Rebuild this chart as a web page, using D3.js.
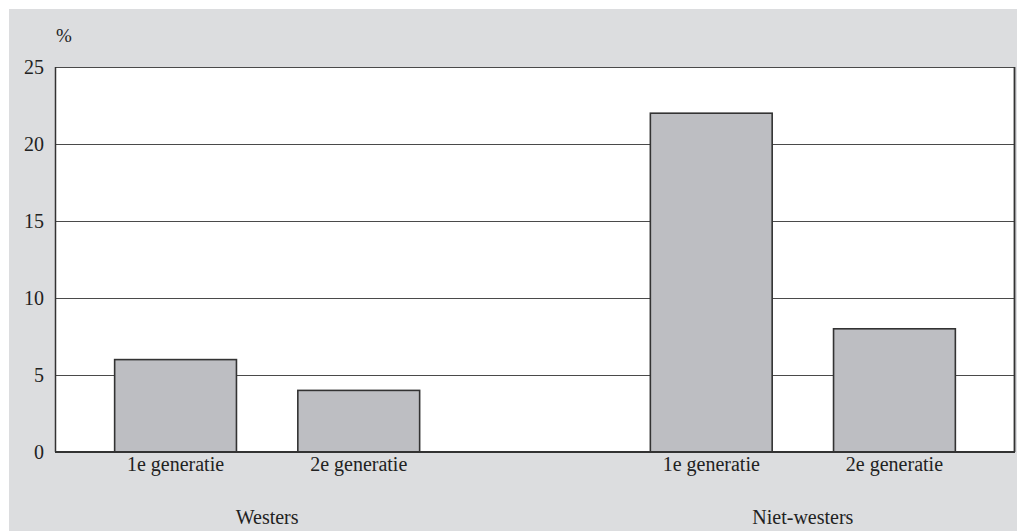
<!DOCTYPE html>
<html>
<head>
<meta charset="utf-8">
<script src="https://cdn.jsdelivr.net/npm/d3@7"></script>
<style>
  body { margin: 0; background: #fff; }
  svg { display: block; }
  text { font-family: "Liberation Serif", "DejaVu Serif", serif; fill: #222; }
</style>
</head>
<body>
<svg class="chart" width="1017" height="531"></svg>
<script>
// data
const groups = ["Westers", "Niet-westers"];
const generations = ["1e generatie", "2e generatie"];
const westers = [6, 4];
const nietWesters = [22, 8];
const yTicks = [0, 5, 10, 15, 20, 25];

const values = [westers, nietWesters];
let data = [];
groups.forEach((g, gi) => {
  generations.forEach((gen, i) => {
    data.push({group: g, gen: gen, value: values[gi][i]});
  });
});

const svg = d3.select(".chart");
const width = +svg.attr("width");
const height = +svg.attr("height");

const margin = {top: 67, right: 2, bottom: 79, left: 55};
const plotRight = width - margin.right;
const plotBottom = height - margin.bottom;

// grey panel behind everything
svg.append("rect")
  .attr("x", 9).attr("y", 9)
  .attr("width", width - 9).attr("height", height - 9)
  .attr("fill", "#dcdddf");

const y = d3.scaleLinear()
  .domain([0, 25])
  .range([plotBottom, margin.top]);

const x0 = d3.scalePoint()
  .domain(groups)
  .range([margin.left, plotRight])
  .padding(0.396);

const x1 = d3.scaleBand()
  .domain(generations)
  .range([-152.5, 152.5])
  .paddingInner(0.335);

// white plot area
svg.append("rect")
  .attr("x", margin.left).attr("y", margin.top)
  .attr("width", plotRight - margin.left)
  .attr("height", plotBottom - margin.top)
  .attr("fill", "#fff");

// gridlines
svg.append("g")
  .selectAll("line")
  .data(yTicks.filter(d => d > 0))
  .join("line")
  .attr("x1", margin.left).attr("x2", plotRight)
  .attr("y1", d => Math.round(y(d)) + 0.5)
  .attr("y2", d => Math.round(y(d)) + 0.5)
  .attr("stroke", "#4a4a4a")
  .attr("stroke-width", 1.2);

// bars
svg.append("g")
  .selectAll("rect")
  .data(data)
  .join("rect")
  .attr("x", d => x0(d.group) + x1(d.gen))
  .attr("y", d => y(d.value))
  .attr("width", x1.bandwidth())
  .attr("height", d => plotBottom - y(d.value))
  .attr("fill", "#bdbec2")
  .attr("stroke", "#333")
  .attr("stroke-width", 1.6);

// plot frame: left and right edges, baseline
svg.append("line")
  .attr("x1", margin.left + 0.5).attr("x2", margin.left + 0.5)
  .attr("y1", margin.top).attr("y2", plotBottom)
  .attr("stroke", "#333").attr("stroke-width", 1.5);
svg.append("line")
  .attr("x1", plotRight - 0.5).attr("x2", plotRight - 0.5)
  .attr("y1", margin.top).attr("y2", plotBottom)
  .attr("stroke", "#333").attr("stroke-width", 1.8);
svg.append("line")
  .attr("x1", margin.left).attr("x2", plotRight)
  .attr("y1", plotBottom).attr("y2", plotBottom)
  .attr("stroke", "#333").attr("stroke-width", 2);

// y tick labels
svg.append("g")
  .selectAll("text")
  .data(yTicks)
  .join("text")
  .attr("x", 44)
  .attr("y", d => y(d))
  .attr("dy", "0.35em")
  .attr("text-anchor", "end")
  .attr("font-size", 20)
  .text(d => d);

svg.append("text")
  .attr("x", 56).attr("y", 42)
  .attr("font-size", 19)
  .text("%");

// generation labels
svg.append("g")
  .selectAll("text")
  .data(data)
  .join("text")
  .attr("x", d => x0(d.group) + x1(d.gen) + x1.bandwidth() / 2)
  .attr("y", 471)
  .attr("text-anchor", "middle")
  .attr("font-size", 20)
  .text(d => d.gen);

// group labels
svg.append("g")
  .selectAll("text")
  .data(groups)
  .join("text")
  .attr("x", d => x0(d))
  .attr("y", 524)
  .attr("text-anchor", "middle")
  .attr("font-size", 20)
  .text(d => d);
</script>
</body>
</html>
